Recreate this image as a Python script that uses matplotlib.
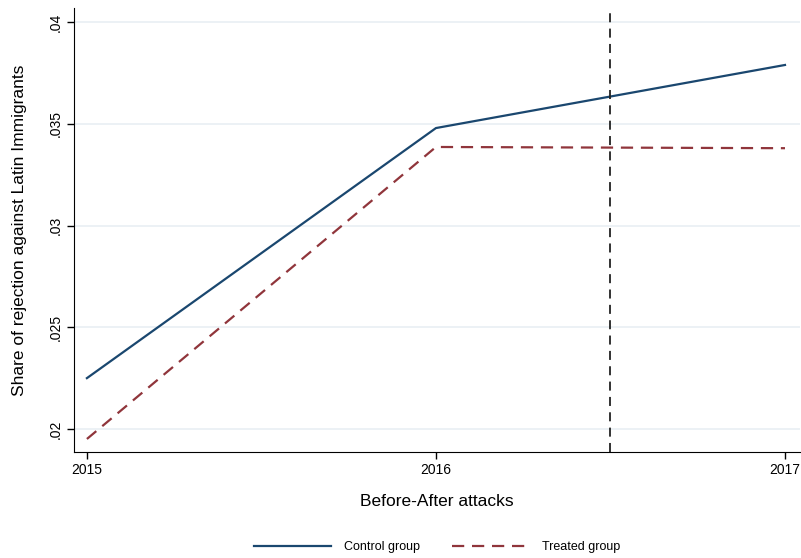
import matplotlib
matplotlib.use("Agg")
import matplotlib.pyplot as plt
from matplotlib.ticker import FixedLocator

plt.rcParams["font.family"] = ["Liberation Sans", "DejaVu Sans"]

years = [2015, 2016, 2017]
control = [0.0225, 0.03479, 0.03789]
treated = [0.01951, 0.03386, 0.03380]
yticks = [0.02, 0.025, 0.03, 0.035, 0.04]
ytick_labels = [".02", ".025", ".03", ".035", ".04"]
attack_x = 2016.5

fig = plt.figure(figsize=(8.01, 5.58), dpi=100)
ax = fig.add_axes([74 / 801, 106 / 558, 726 / 801, 444 / 558])

ax.plot(years, control, color="#1a476f", lw=1.6, label="Control group")
ax.plot(years, treated, color="#90353b", lw=1.6, ls=(0, (5.5, 3.5)), label="Treated group")
ax.axvline(attack_x, color="#222222", lw=1.3, ls=(0, (5, 3.5)))

ax.set_xlim(2014.963, 2017.043)
ax.set_ylim(0.01887, 0.04069)
ax.set_xticks(years)
ax.set_xticklabels([str(y) for y in years], fontsize=10)
ax.yaxis.set_major_locator(FixedLocator(yticks))
ax.set_yticklabels(ytick_labels, fontsize=10, rotation=90, va="center")
ax.grid(axis="y", color="#eaf0f4", lw=1.3)
ax.set_axisbelow(True)
for s in ("top", "right"):
    ax.spines[s].set_visible(False)
ax.tick_params(direction="out", length=5, width=1, pad=3)

ax.set_ylabel("Share of rejection against Latin Immigrants", fontsize=12.5, labelpad=16)
ax.set_xlabel("Before-After attacks", fontsize=12.5, labelpad=12)

fig.legend(loc="lower center", bbox_to_anchor=(437 / 801, -0.012), ncol=2, frameon=False,
           fontsize=9, handlelength=6.2, columnspacing=2.6, handletextpad=1.0)

fig.savefig("out.png", dpi=100)
